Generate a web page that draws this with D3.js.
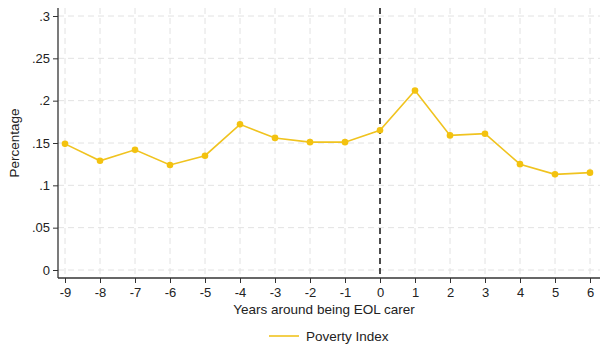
<!DOCTYPE html>
<html>
<head>
<meta charset="utf-8">
<script src="https://cdn.jsdelivr.net/npm/d3@7"></script>
<style>
  body { margin: 0; background: #fff; }
  text { font-family: "Liberation Sans", Arial, sans-serif; fill: #222; }
</style>
</head>
<body>
<svg id="chart" width="604" height="353"></svg>
<script>
// data
const years = [-9, -8, -7, -6, -5, -4, -3, -2, -1, 0, 1, 2, 3, 4, 5, 6];
const povertyIndex = [0.149, 0.129, 0.142, 0.124, 0.135, 0.172, 0.156, 0.151, 0.151, 0.165, 0.212, 0.159, 0.161, 0.125, 0.113, 0.115];
const yTicks = [0, 0.05, 0.1, 0.15, 0.2, 0.25, 0.3];
const seriesName = 'Poverty Index';

const svg = d3.select('#chart');
const lineColor = '#f0c31f';

const plot = { left: 58, right: 600, top: 8, bottom: 278 };

const xScale = d3.scaleLinear().domain([-9, 6]).range([65, 590]);
const yScale = d3.scaleLinear().domain([0, 0.3]).range([270, 16]);

// grid
const grid = svg.append('g');
grid.selectAll('.hgrid')
    .data(yTicks)
    .join('line')
    .attr('x1', plot.left).attr('x2', plot.right)
    .attr('y1', d => yScale(d)).attr('y2', d => yScale(d))
    .attr('stroke', '#e2e2e2').attr('stroke-dasharray', '6,4');
grid.selectAll('.vgrid')
    .data(years)
    .join('line')
    .attr('x1', d => xScale(d)).attr('x2', d => xScale(d))
    .attr('y1', plot.top).attr('y2', plot.bottom)
    .attr('stroke', '#e2e2e2').attr('stroke-dasharray', '6,4');

// axes (plain hyphen for negatives, like the original)
const xAxis = d3.axisBottom(xScale).tickValues(years).tickSize(5).tickSizeOuter(0)
    .tickFormat(d => String(d));
const yAxis = d3.axisLeft(yScale).tickValues(yTicks).tickSize(5).tickSizeOuter(0)
    .tickFormat(d => d === 0 ? '0' : String(+d.toFixed(2)).replace(/^0/, ''));

const xAxisG = svg.append('g')
    .attr('transform', `translate(0,${plot.bottom})`)
    .call(xAxis);
const yAxisG = svg.append('g')
    .attr('transform', `translate(${plot.left},0)`)
    .call(yAxis);

[xAxisG, yAxisG].forEach(g => {
    g.select('.domain').remove();
    g.selectAll('line').attr('stroke', '#333');
    g.selectAll('text').attr('font-size', 13).attr('fill', '#222')
        .style('font-family', '"Liberation Sans", Arial, sans-serif');
});
xAxisG.selectAll('text').attr('dy', '1em').attr('y', 6);
yAxisG.selectAll('text').attr('x', -8);

// axis lines
svg.append('line')
    .attr('x1', plot.left).attr('x2', plot.right)
    .attr('y1', plot.bottom).attr('y2', plot.bottom)
    .attr('stroke', '#333').attr('stroke-width', 1.3);
svg.append('line')
    .attr('x1', plot.left).attr('x2', plot.left)
    .attr('y1', plot.top).attr('y2', plot.bottom)
    .attr('stroke', '#333').attr('stroke-width', 1.3);

// vertical reference line at 0
svg.append('line')
    .attr('x1', xScale(0)).attr('x2', xScale(0))
    .attr('y1', plot.top).attr('y2', plot.bottom)
    .attr('stroke', '#222').attr('stroke-width', 1.6)
    .attr('stroke-dasharray', '6,4');

// series
const pts = years.map((y, i) => ({ x: y, v: povertyIndex[i] }));
const line = d3.line().x(d => xScale(d.x)).y(d => yScale(d.v));
svg.append('path')
    .datum(pts)
    .attr('d', line)
    .attr('fill', 'none')
    .attr('stroke', lineColor)
    .attr('stroke-width', 1.6);
svg.selectAll('.dot')
    .data(pts)
    .join('circle')
    .attr('cx', d => xScale(d.x))
    .attr('cy', d => yScale(d.v))
    .attr('r', 3.3)
    .attr('fill', '#f3c20f');

// titles
svg.append('text')
    .attr('x', (plot.left + plot.right) / 2 - 5)
    .attr('y', 314)
    .attr('text-anchor', 'middle')
    .attr('font-size', 13.5)
    .text('Years around being EOL carer');

svg.append('text')
    .attr('transform', `translate(19,${(plot.top + plot.bottom) / 2}) rotate(-90)`)
    .attr('text-anchor', 'middle')
    .attr('font-size', 13.5)
    .text('Percentage');

// legend
svg.append('line')
    .attr('x1', 269).attr('x2', 299)
    .attr('y1', 336).attr('y2', 336)
    .attr('stroke', lineColor).attr('stroke-width', 1.6);
svg.append('text')
    .attr('x', 306)
    .attr('y', 341)
    .attr('font-size', 13.5)
    .text(seriesName);
</script>
</body>
</html>
